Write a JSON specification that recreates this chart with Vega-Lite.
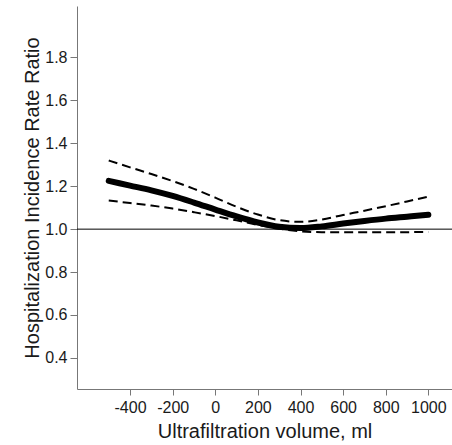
{
  "$schema": "https://vega.github.io/schema/vega-lite/v6.json",
  "width": 375,
  "height": 383,
  "autosize": "none",
  "padding": {"left": 77, "top": 6, "right": 0, "bottom": 56},
  "background": "white",
  "config": {
    "view": {"stroke": null},
    "font": "Liberation Sans",
    "axis": {
      "grid": false,
      "domainColor": "#777777",
      "tickColor": "#777777",
      "labelColor": "#1a1a1a",
      "titleColor": "#1a1a1a",
      "labelFont": "Liberation Sans",
      "titleFont": "Liberation Sans",
      "labelFontSize": 16,
      "titleFontSize": 20,
      "titleFontWeight": "normal"
    }
  },
  "data": {
    "values": [
      {"x": -500, "est": 1.225, "lo": 1.133, "hi": 1.320},
      {"x": -400, "est": 1.203, "lo": 1.122, "hi": 1.288},
      {"x": -300, "est": 1.181, "lo": 1.110, "hi": 1.257},
      {"x": -200, "est": 1.155, "lo": 1.096, "hi": 1.224},
      {"x": -100, "est": 1.124, "lo": 1.079, "hi": 1.188},
      {"x": 0, "est": 1.091, "lo": 1.061, "hi": 1.147},
      {"x": 100, "est": 1.059, "lo": 1.041, "hi": 1.104},
      {"x": 200, "est": 1.031, "lo": 1.020, "hi": 1.068},
      {"x": 300, "est": 1.011, "lo": 1.002, "hi": 1.042},
      {"x": 400, "est": 1.005, "lo": 0.990, "hi": 1.034},
      {"x": 500, "est": 1.013, "lo": 0.986, "hi": 1.045},
      {"x": 600, "est": 1.026, "lo": 0.985, "hi": 1.066},
      {"x": 700, "est": 1.038, "lo": 0.985, "hi": 1.086},
      {"x": 800, "est": 1.049, "lo": 0.985, "hi": 1.107},
      {"x": 900, "est": 1.058, "lo": 0.986, "hi": 1.129},
      {"x": 1000, "est": 1.067, "lo": 0.987, "hi": 1.152}
    ]
  },
  "layer": [
    {
      "data": {"values": [{"ref": 1}]},
      "mark": {"type": "rule", "color": "black", "strokeWidth": 1},
      "encoding": {
        "y": {"field": "ref", "type": "quantitative", "scale": {"domain": [0.255, 2.04]}}
      }
    },
    {
      "mark": {"type": "line", "color": "black", "strokeWidth": 2, "strokeDash": [9, 5], "interpolate": "monotone"},
      "encoding": {
        "x": {"field": "x", "type": "quantitative"},
        "y": {"field": "hi", "type": "quantitative"}
      }
    },
    {
      "mark": {"type": "line", "color": "black", "strokeWidth": 2, "strokeDash": [9, 5], "interpolate": "monotone"},
      "encoding": {
        "x": {"field": "x", "type": "quantitative"},
        "y": {"field": "lo", "type": "quantitative"}
      }
    },
    {
      "mark": {"type": "line", "color": "black", "strokeWidth": 6, "strokeCap": "round", "interpolate": "monotone"},
      "encoding": {
        "x": {
          "field": "x", "type": "quantitative",
          "scale": {"domain": [-649, 1111], "nice": false, "zero": false},
          "axis": {
            "title": "Ultrafiltration volume, ml",
            "values": [-400, -200, 0, 200, 400, 600, 800, 1000],
            "labelExpr": "datum.value + ''",
            "tickSize": 6,
            "labelPadding": 4,
            "titlePadding": 6
          }
        },
        "y": {
          "field": "est", "type": "quantitative",
          "scale": {"domain": [0.255, 2.04], "nice": false, "zero": false},
          "axis": {
            "title": "Hospitalization Incidence Rate Ratio",
            "values": [0.4, 0.6, 0.8, 1.0, 1.2, 1.4, 1.6, 1.8],
            "format": ".1f",
            "tickSize": 7,
            "labelPadding": 3,
            "titlePadding": 2
          }
        }
      }
    }
  ]
}
